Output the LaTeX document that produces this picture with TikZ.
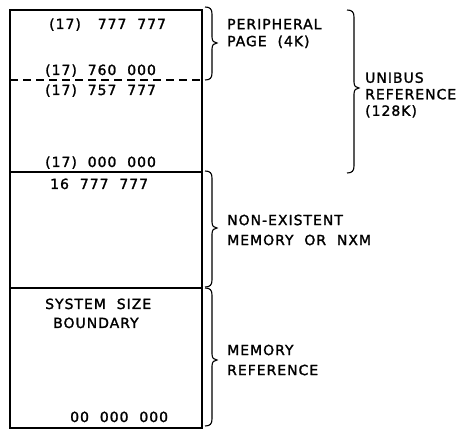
\documentclass[tikz,border=0pt]{standalone}
\usepackage{fontspec}
\setmainfont{DejaVu Sans}[LetterSpace=7, WordSpace=2, FakeBold=1.6]
\newcommand\mybrace[4]{%
  \draw[brc] (#1,#2) .. controls (#1+5,#2) and (#1+7,#2+2) .. (#1+7,#2+7)
    -- (#1+7,#4-6) .. controls (#1+7,#4-2) and (#1+9,#4) .. (#1+12,#4)
    .. controls (#1+9,#4) and (#1+7,#4+2) .. (#1+7,#4+6)
    -- (#1+7,#3-7) .. controls (#1+7,#3-2) and (#1+5,#3) .. (#1,#3);}
\begin{document}
\begin{tikzpicture}[x=1pt,y=-1pt,
  box/.style={line width=1.4pt},
  divline/.style={line width=1.3pt},
  dashline/.style={line width=1.3pt, dash pattern=on 8pt off 5pt},
  brc/.style={line width=1.1pt},
  addr/.style={anchor=west, inner sep=0pt, font=\fontsize{14}{17}\selectfont, text height=10pt, text depth=0pt},
  lbl/.style={anchor=west, inner sep=0pt, align=left, font=\fontsize{14}{17}\selectfont},
]
\useasboundingbox (0,0) rectangle (461,430);
% box and divisions
\draw[box] (10,10) rectangle (202,428);
\draw[dashline] (10,80) -- (202,80);
\draw[divline] (10,172) -- (202,172);
\draw[divline] (10,288) -- (202,288);
% addresses
\node[addr] (a1) at (49,24) {(17)\hspace{6pt} 777 777};
\node[addr] (a2) at (45,70) {(17) 760 000};
\node[addr] (a3) at (45,90) {(17) 757 777};
\node[addr] (a4) at (45,162) {(17) 000 000};
\node[addr] (a5) at (50,184) {16 777 777};
\node[addr] (a6) at (45,304) {SYSTEM SIZE};
\node[addr] (a7) at (53,323) {BOUNDARY};
\node[addr] (a8) at (70,417) {00 000 000};
% braces
\mybrace{205}{7}{80}{43}
\mybrace{347}{10}{173}{88}
\mybrace{205}{171}{287}{228}
\mybrace{205}{288}{426}{360}
% labels
\node[lbl] (l1) at (227,33.5) {PERIPHERAL\\PAGE (4K)};
\node[lbl] (l2) at (365,95) {UNIBUS\\[-0.5pt]REFERENCE\\[-0.5pt](128K)};
\node[lbl] (l3) at (227,230) {NON-EXISTENT\\[3pt]MEMORY OR NXM};
\node[lbl] (l4) at (227,360) {MEMORY\\[3pt]REFERENCE};
\end{tikzpicture}
\end{document}
